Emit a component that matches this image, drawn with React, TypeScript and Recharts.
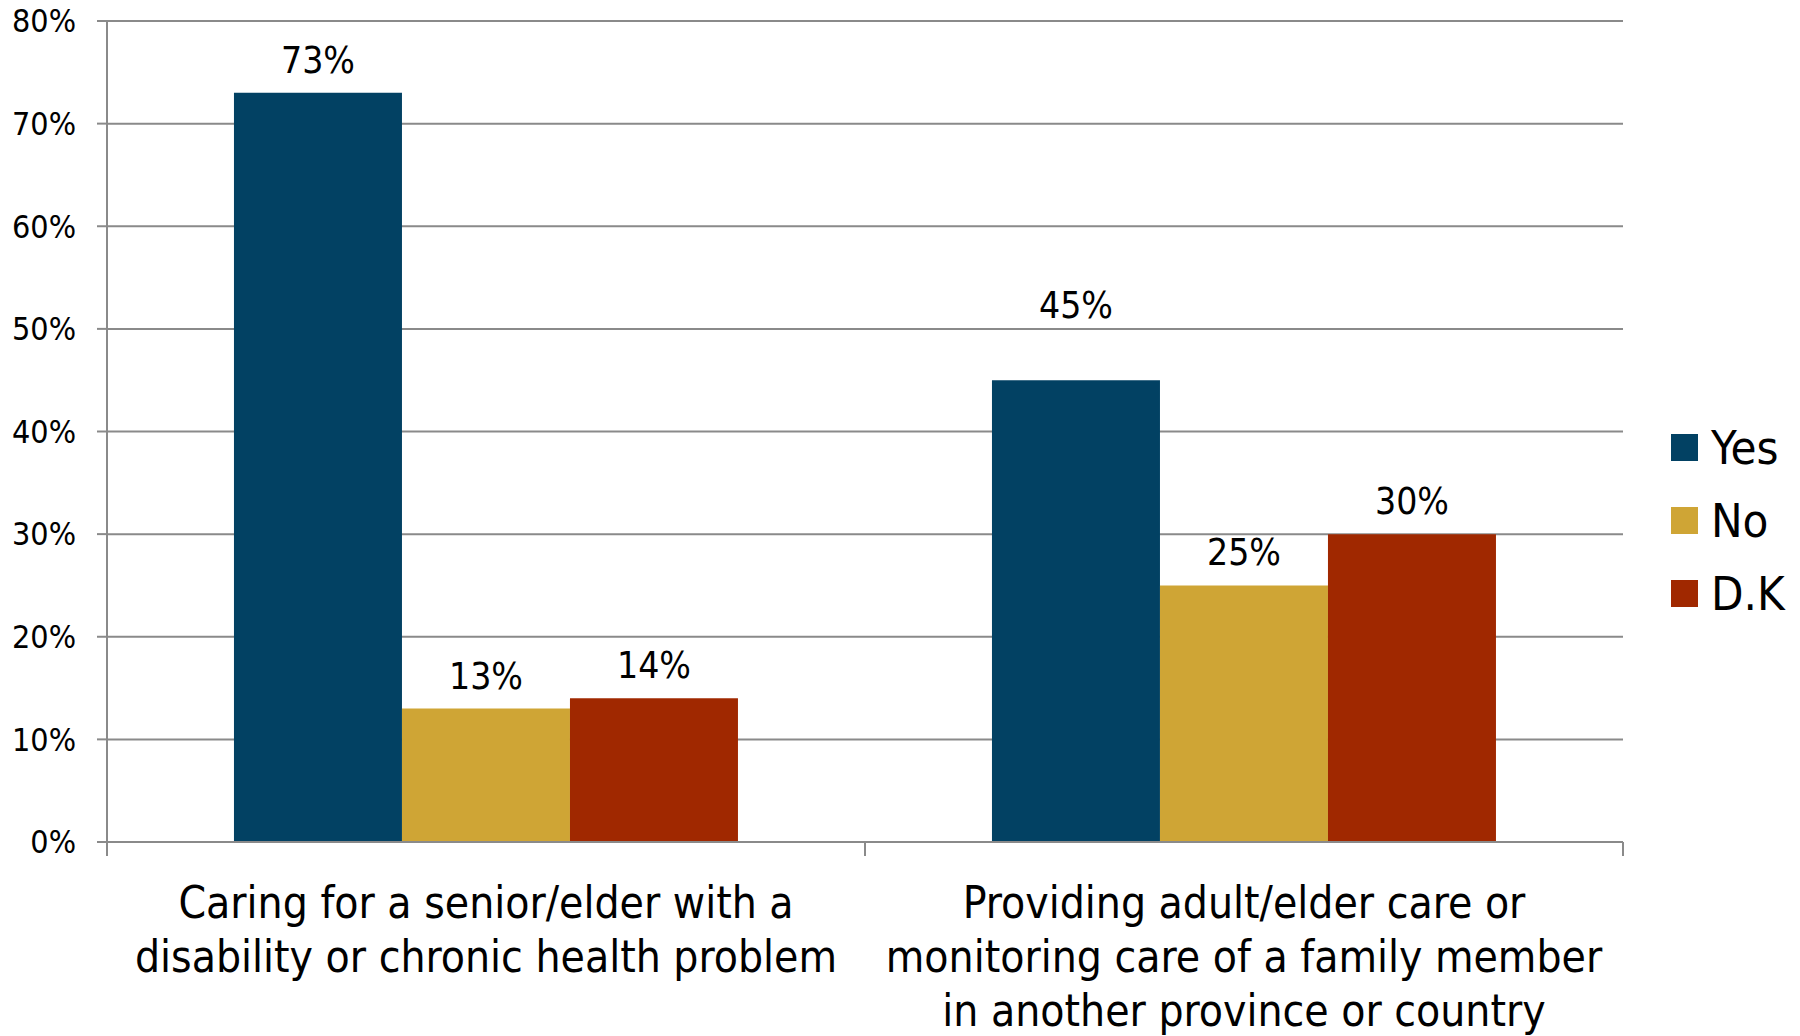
import React from "react";
import { BarChart, Bar, XAxis, YAxis, CartesianGrid, LabelList, Legend } from "recharts";

const categories = [
  "Caring for a senior/elder with a disability or chronic health problem",
  "Providing adult/elder care or monitoring care of a family member in another province or country",
];

// how each category label wraps under the axis
const categoryLines = [
  ["Caring for a senior/elder with a", "disability or chronic health problem"],
  ["Providing adult/elder care or", "monitoring care of a family member", "in another province or country"],
];

const yesValues = [73, 45];
const noValues = [13, 25];
const dkValues = [14, 30];

const yTicks = [0, 10, 20, 30, 40, 50, 60, 70, 80];

const series = [
  { key: "yes", name: "Yes", color: "#024163" },
  { key: "no", name: "No", color: "#CFA535" },
  { key: "dk", name: "D.K", color: "#A02800" },
];

const data = categories.map((name, i) => ({
  name,
  yes: yesValues[i],
  no: noValues[i],
  dk: dkValues[i],
}));

const FONT = '"DejaVu Sans Condensed", "DejaVu Sans", sans-serif';
const GRID = "#8a8a8a";

// the second "Yes" label sits higher above its bar than the rest
const extraLift: Record<string, number[]> = { yes: [0, 42], no: [0, 0], dk: [0, 0] };

const CategoryTick = (props: any) => {
  const { x, y, payload, index } = props;
  const half = payload?.offset || 379;
  const lines = categoryLines[index] || [String(payload.value)];
  return (
    <g>
      <line x1={x - half} y1={y} x2={x - half} y2={y + 14} stroke={GRID} strokeWidth={2} />
      {index === categories.length - 1 && (
        <line x1={x + half} y1={y} x2={x + half} y2={y + 14} stroke={GRID} strokeWidth={2} />
      )}
      <text x={x} y={y} textAnchor="middle" fontSize={44} fontFamily={FONT} fill="#000">
        {lines.map((ln, i) => (
          <tspan key={i} x={x} y={y + 76 + i * 54}>
            {ln}
          </tspan>
        ))}
      </text>
    </g>
  );
};

const makeValueLabel = (key: string) => (props: any) => {
  const { x, y, width, value, index } = props;
  const lift = (extraLift[key] && extraLift[key][index]) || 0;
  return (
    <text
      x={x + width / 2}
      y={y - 20 - lift}
      textAnchor="middle"
      fontSize={37}
      fontFamily={FONT}
      fill="#000"
    >
      {`${value}%`}
    </text>
  );
};

const LegendBox = () => (
  <div style={{ fontFamily: FONT }}>
    {series.map((s) => (
      <div key={s.key} style={{ display: "flex", alignItems: "center", height: 73 }}>
        <div style={{ width: 27, height: 27, background: s.color, marginRight: 13 }} />
        <span style={{ fontSize: 47, color: "#000", lineHeight: "47px" }}>{s.name}</span>
      </div>
    ))}
  </div>
);

export default function App() {
  return (
    <div style={{ position: "absolute", left: 0, top: 0, width: 1800, height: 1036, background: "#fff" }}>
      <BarChart
        width={1800}
        height={1036}
        data={data}
        margin={{ top: 21, right: 177, left: 0, bottom: 0 }}
        barCategoryGap="16.75%"
        barGap={0}
      >
        <CartesianGrid vertical={false} stroke={GRID} strokeWidth={2} />
        <XAxis
          dataKey="name"
          height={194}
          axisLine={{ stroke: GRID, strokeWidth: 2 }}
          tickLine={false}
          tickSize={0}
          tickMargin={0}
          interval={0}
          tick={<CategoryTick />}
        />
        <YAxis
          width={107}
          domain={[0, 80]}
          ticks={yTicks}
          interval={0}
          tickFormatter={(v: number) => `${v}%`}
          axisLine={{ stroke: GRID, strokeWidth: 2 }}
          tickLine={{ stroke: GRID, strokeWidth: 2 }}
          tickSize={10}
          tickMargin={21}
          tick={{ fontSize: 32, fill: "#000", fontFamily: FONT }}
        />
        <Legend
          layout="vertical"
          align="center"
          verticalAlign="middle"
          content={<LegendBox />}
          wrapperStyle={{ left: 1671, top: 411, width: 129 }}
        />
        {series.map((s) => (
          <Bar key={s.key} dataKey={s.key} name={s.name} fill={s.color} isAnimationActive={false}>
            <LabelList dataKey={s.key} content={makeValueLabel(s.key)} />
          </Bar>
        ))}
      </BarChart>
    </div>
  );
}
